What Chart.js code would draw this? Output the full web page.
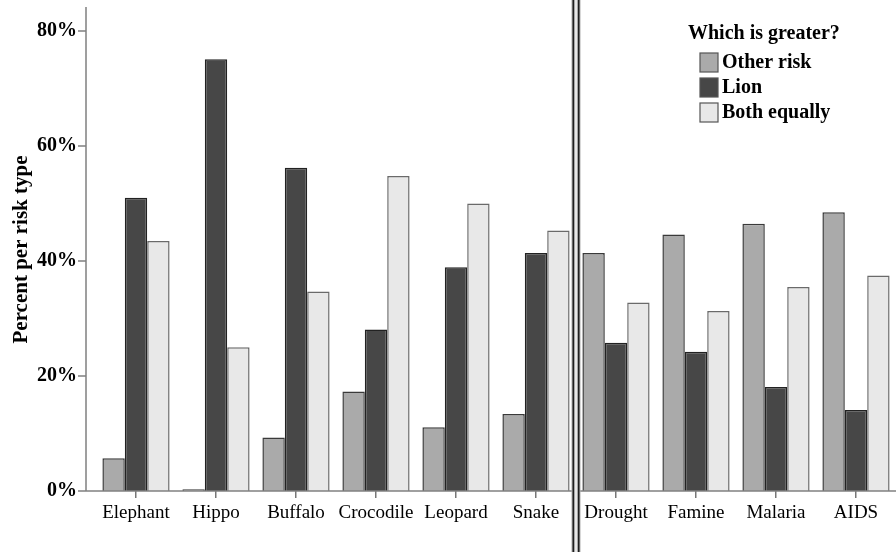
<!DOCTYPE html>
<html lang="en">
<head>
  <meta charset="UTF-8" />
  <title>Which is greater?</title>
  <script src="https://cdn.jsdelivr.net/npm/chart.js"></script>
  <style>
    body {
      margin: 0;
      background: white;
    }
    .wrap {
      width: 896px;
      height: 552px;
      position: relative;
    }
  </style>
</head>
<body>
  <div class="wrap">
    <canvas id="riskChart"></canvas>
  </div>

  <script>
    const categories = ['Elephant', 'Hippo', 'Buffalo', 'Crocodile', 'Leopard', 'Snake', 'Drought', 'Famine', 'Malaria', 'AIDS'];
    const otherRisk = [5.7, 0.3, 9.3, 17.3, 11.1, 13.4, 41.4, 44.6, 46.5, 48.5];
    const lion = [51.0, 75.1, 56.2, 28.1, 38.9, 41.4, 25.8, 24.2, 18.1, 14.1];
    const bothEqually = [43.5, 25.0, 34.7, 54.8, 50.0, 45.3, 32.8, 31.3, 35.5, 37.5];
    const yTicks = [0, 20, 40, 60, 80];
    const seriesNames = ['Other risk', 'Lion', 'Both equally'];
    const legendTitle = 'Which is greater?';

    const fills = ['#aaaaaa', '#474747', '#e8e8e8'];
    const edges = ['#3a3a3a', '#222222', '#6a6a6a'];
    const serif = "'Liberation Serif', 'Times New Roman', serif";

    // axis lines, the double divider and the legend are drawn by hand
    const extras = {
      id: 'extras',
      afterDraw(chart) {
        const ctx = chart.ctx;
        const area = chart.chartArea;
        const x = chart.scales.x;
        const y = chart.scales.y;
        const axisX = area.left - 10;
        ctx.save();

        // y axis line + ticks
        ctx.strokeStyle = '#808080';
        ctx.lineWidth = 1.5;
        ctx.beginPath();
        ctx.moveTo(axisX, area.top - 1);
        ctx.lineTo(axisX, area.bottom);
        yTicks.forEach(v => {
          const py = y.getPixelForValue(v);
          ctx.moveTo(axisX - 8, py);
          ctx.lineTo(axisX, py);
        });
        ctx.stroke();

        // baseline
        ctx.beginPath();
        ctx.moveTo(axisX, area.bottom);
        ctx.lineTo(area.right, area.bottom);
        ctx.stroke();

        // double divider between the animal and the other risks
        const split = (x.getPixelForValue(5) + x.getPixelForValue(6)) / 2;
        ctx.fillStyle = '#b0b0b0';
        ctx.fillRect(split - 4.5, 0, 9, chart.height);
        ctx.fillStyle = '#1e1e1e';
        ctx.fillRect(split - 3.5, 0, 2, chart.height);
        ctx.fillRect(split + 1.5, 0, 2, chart.height);
        ctx.fillStyle = '#e6e6e6';
        ctx.fillRect(split - 1.5, 0, 3, chart.height);

        // legend
        ctx.fillStyle = '#000';
        ctx.textBaseline = 'middle';
        ctx.textAlign = 'left';
        ctx.font = 'bold 20px ' + serif;
        ctx.fillText(legendTitle, 688, 34);
        seriesNames.forEach((name, i) => {
          const top = 53 + i * 25;
          ctx.fillStyle = fills[i];
          ctx.fillRect(700, top, 18, 19);
          ctx.strokeStyle = '#555';
          ctx.lineWidth = 1.2;
          ctx.strokeRect(700, top, 18, 19);
          ctx.fillStyle = '#000';
          ctx.fillText(name, 722, top + 10);
        });
        ctx.restore();
      }
    };

    const ctx = document.getElementById('riskChart').getContext('2d');
    new Chart(ctx, {
      type: 'bar',
      data: {
        labels: categories,
        datasets: [otherRisk, lion, bothEqually].map((values, i) => ({
          label: seriesNames[i],
          data: values,
          backgroundColor: fills[i],
          borderColor: edges[i],
          borderWidth: 1.5,
          borderSkipped: 'start',
          categoryPercentage: 0.84,
          barPercentage: 1.0
        }))
      },
      options: {
        responsive: true,
        maintainAspectRatio: false,
        animation: false,
        layout: { padding: { top: 8, right: 0, left: 0, bottom: 0 } },
        plugins: {
          legend: { display: false },
          tooltip: { enabled: false }
        },
        scales: {
          x: {
            afterFit: s => { s.height = 61; },
            border: { display: false },
            grid: {
              display: true,
              drawOnChartArea: false,
              drawTicks: true,
              tickLength: 7,
              offset: false,
              color: '#777',
              lineWidth: 1.5
            },
            ticks: {
              color: '#000',
              padding: 4,
              maxRotation: 0,
              font: { family: serif, size: 19 }
            }
          },
          y: {
            min: 0,
            max: 84,
            afterFit: s => {
              s.width = 96;
              s.paddingTop = 0;
              s.paddingBottom = 0;
            },
            afterBuildTicks: s => { s.ticks = yTicks.map(v => ({ value: v })); },
            border: { display: false },
            grid: { display: false, drawTicks: false },
            ticks: {
              color: '#000',
              padding: 19,
              font: { family: serif, size: 20, weight: 'bold' },
              callback: v => v + '%'
            },
            title: {
              display: true,
              text: 'Percent per risk type',
              color: '#000',
              padding: { top: 9, bottom: 0 },
              font: { family: serif, size: 21, weight: 'bold' }
            }
          }
        }
      },
      plugins: [extras]
    });
  </script>
</body>
</html>
